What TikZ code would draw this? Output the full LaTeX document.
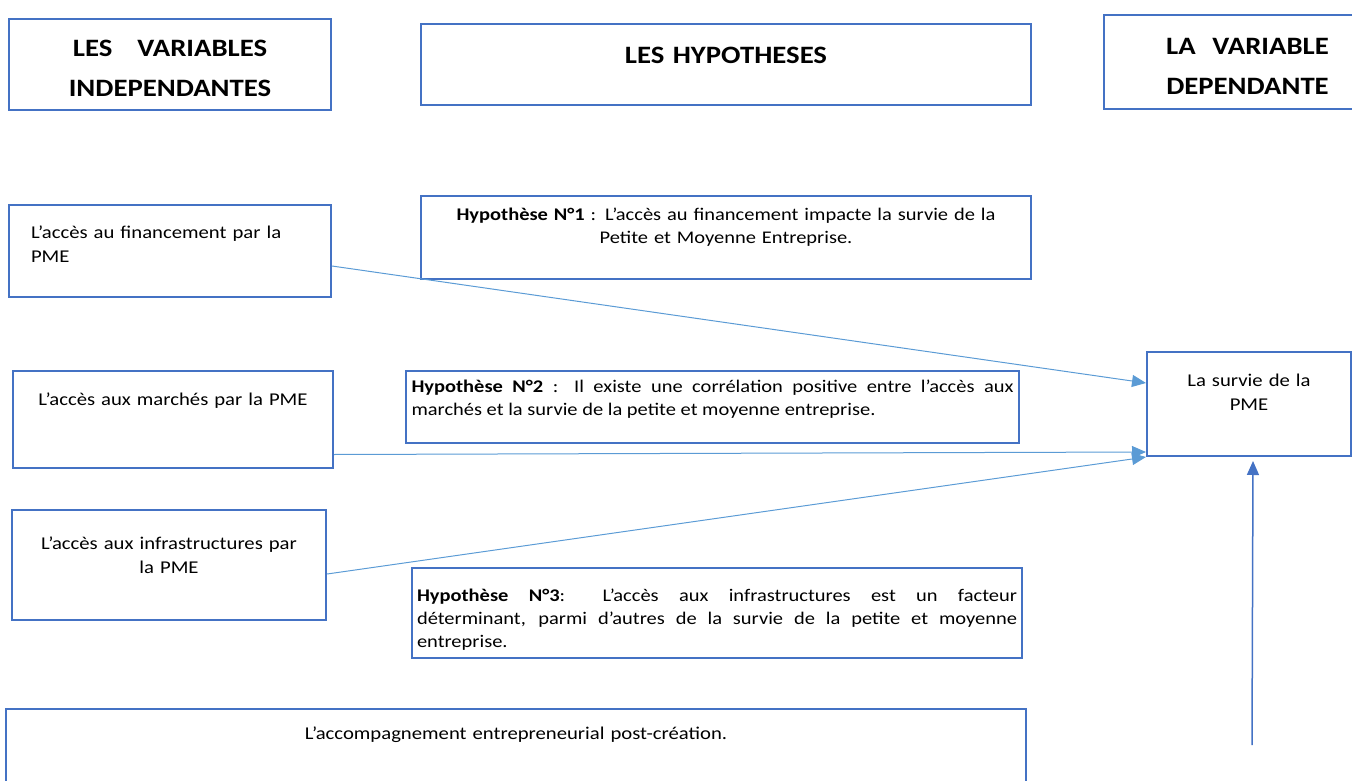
\documentclass[tikz,border=0pt]{standalone}
\usepackage{fontspec}
\setmainfont{Carlito}[FakeStretch=1.15]
\usetikzlibrary{arrows.meta,calc}

\definecolor{bleucadre}{RGB}{68,114,196}
\definecolor{bleufleche}{RGB}{91,155,213}

\tikzset{every picture/.style={line width=0.75pt}}
\tikzset{
	cadre/.style={draw=bleucadre, line width=2pt, inner sep=0pt, anchor=north west},
	titre/.style={cadre, align=center, font=\fontsize{25}{40}\selectfont\bfseries},
	varbox/.style={cadre, align=center, font=\fontsize{18}{24}\selectfont},
	hypbox/.style={cadre, align=justify, font=\fontsize{17.8}{23}\selectfont},
	fleche/.style={draw=bleufleche, line width=1pt, -{Triangle[length=14pt,width=12pt]}},
}

\begin{document}
\begin{tikzpicture}[x=1pt,y=1pt,yscale=-1,xscale=1]
	\useasboundingbox (0,0) rectangle (1352,781);
	\clip (0,0) rectangle (1352,781);

	% en-tetes
	\node [titre, minimum width=322, text width=310, text height=38, text depth=53] (indep) at (8,18) {LES\ \ \ VARIABLES\\INDEPENDANTES};
	\node [titre, minimum width=610, text width=590, text height=40, text depth=41] (hyps) at (420,23) {LES HYPOTHESES};
	\node [titre, minimum width=287, text width=270, text height=40, text depth=54] (dep) at (1103,14) {LA\ \ VARIABLE\\DEPENDANTE};

	% variables independantes
	\node [varbox, align=left, minimum width=322, text width=278, text height=33, text depth=59] (fin) at (8,204) {L’accès au financement par la\\PME};
	\node [varbox, minimum width=320, text width=300, text height=34, text depth=63] (marches) at (12,370) {L’accès aux marchés par la PME};
	\node [varbox, minimum width=314, text width=300, text height=39, text depth=71] (infra) at (11,509) {L’accès aux infrastructures par\\la PME};
	\node [varbox, minimum width=1020, text width=1000, text height=30, text depth=62] (accomp) at (5,708) {L’accompagnement entrepreneurial post-création.};

	% hypotheses
	\node [hypbox, align=center, minimum width=610, text width=600, text height=24, text depth=59] (hyp1) at (420,195) {\textbf{Hypothèse N°1} : L’accès au financement impacte la survie de la\\Petite et Moyenne Entreprise.};
	\node [hypbox, minimum width=613, text width=602, text height=21, text depth=51] (hyp2) at (405,370) {\textbf{Hypothèse N°2} : Il existe une corrélation positive entre l’accès aux\linebreak marchés et la survie de la petite et moyenne entreprise.};
	\node [hypbox, minimum width=610, text width=600, text height=33, text depth=57] (hyp3) at (411,567) {\textbf{Hypothèse N°3}: L’accès aux infrastructures est un facteur\linebreak déterminant, parmi d’autres de la survie de la petite et moyenne\linebreak entreprise.};

	% variable dependante
	\node [varbox, minimum width=204, text width=190, text height=34, text depth=70] (survie) at (1146,351) {La survie de la\\PME};

	\coordinate (bas) at (1252,745);

	\draw [fleche] ($(fin.east)+(0,15)$) -- ($(survie.west)+(0,-21)$);
	\draw [fleche] ($(marches.east)+(0,35)$) -- ($(survie.south west)+(0,-5)$);
	\draw [fleche] ($(infra.east)+(0,9)$) -- (survie.south west);
	\draw [fleche, draw=bleucadre, line width=1.5pt] (bas) -- ($(survie.south)+(4,4)$);
\end{tikzpicture}
\end{document}
